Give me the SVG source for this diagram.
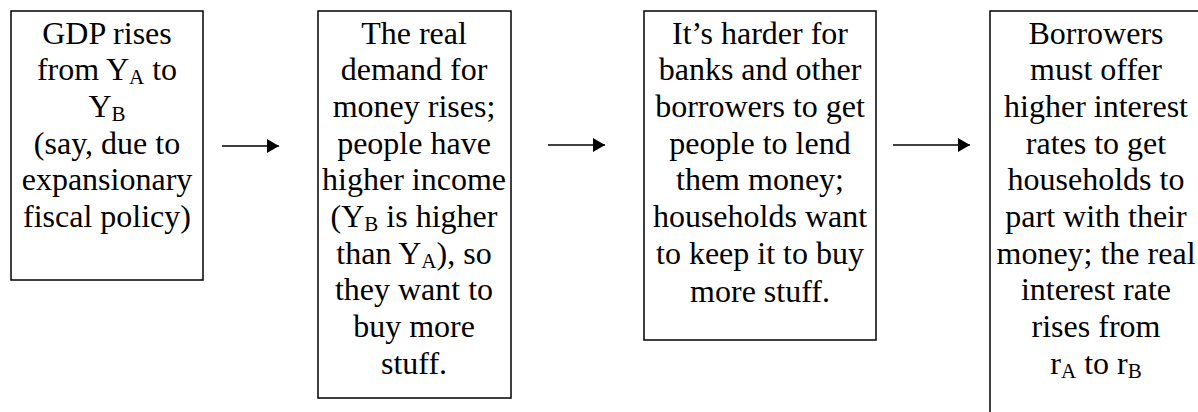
<svg xmlns="http://www.w3.org/2000/svg" width="1198" height="412" viewBox="0 0 1198 412">
<style>
.box{fill:#fff;stroke:#000;stroke-width:1.5}
.t{font-family:"Liberation Serif","Times New Roman","DejaVu Serif",serif;font-size:32px;fill:#000;text-anchor:middle}
.s{font-size:21px}
.c{stroke:#000;stroke-width:1.5;fill:none}
</style>
<defs>
<marker id="ah" markerUnits="userSpaceOnUse" markerWidth="12" markerHeight="14" refX="12" refY="7" orient="auto">
<path d="M0,0 L12,7 L0,14 Z" fill="#000"/>
</marker>
</defs>
<rect width="1198" height="412" fill="#fff"/>
<g id="node1" font-family="Liberation Serif, serif">
<rect class="box" x="11" y="11" width="192" height="269"/>
<text class="t" x="107" y="43.5">GDP rises</text>
<text class="t" x="107" y="80.2">from Y<tspan class="s" dy="4">A</tspan><tspan dy="-4"> to</tspan></text>
<text class="t" x="107" y="116.9">Y<tspan class="s" dy="4">B</tspan></text>
<text class="t" x="107" y="153.6">(say, due to</text>
<text class="t" x="107" y="190.3">expansionary</text>
<text class="t" x="107" y="227">fiscal policy)</text>
</g>
<g id="node2" font-family="Liberation Serif, serif">
<rect class="box" x="318" y="11" width="193" height="387"/>
<text class="t" x="414" y="43.5">The real</text>
<text class="t" x="414" y="80.2">demand for</text>
<text class="t" x="414" y="116.9">money rises;</text>
<text class="t" x="414" y="153.6">people have</text>
<text class="t" x="414" y="190.3">higher income</text>
<text class="t" x="414" y="227">(Y<tspan class="s" dy="4">B</tspan><tspan dy="-4"> is higher</tspan></text>
<text class="t" x="414" y="263.7">than Y<tspan class="s" dy="4">A</tspan><tspan dy="-4">), so</tspan></text>
<text class="t" x="414" y="300.4">they want to</text>
<text class="t" x="414" y="337.1">buy more</text>
<text class="t" x="414" y="373.8">stuff.</text>
</g>
<g id="node3" font-family="Liberation Serif, serif">
<rect class="box" x="644" y="11" width="232" height="329"/>
<text class="t" x="760" y="43.5">It’s harder for</text>
<text class="t" x="760" y="80.2">banks and other</text>
<text class="t" x="760" y="116.9">borrowers to get</text>
<text class="t" x="760" y="153.6">people to lend</text>
<text class="t" x="760" y="190.3">them money;</text>
<text class="t" x="760" y="227">households want</text>
<text class="t" x="760" y="263.7">to keep it to buy</text>
<text class="t" x="760" y="301.5">more stuff.</text>
</g>
<g id="node4" font-family="Liberation Serif, serif">
<rect class="box" x="990" y="11" width="214" height="420"/>
<text class="t" x="1096" y="43.5">Borrowers</text>
<text class="t" x="1096" y="80.2">must offer</text>
<text class="t" x="1096" y="116.9">higher interest</text>
<text class="t" x="1096" y="153.6">rates to get</text>
<text class="t" x="1096" y="190.3">households to</text>
<text class="t" x="1096" y="227">part with their</text>
<text class="t" x="1096" y="263.7">money; the real</text>
<text class="t" x="1096" y="300.4">interest rate</text>
<text class="t" x="1096" y="337.1">rises from</text>
<text class="t" x="1096" y="373.8">r<tspan class="s" dy="4">A</tspan><tspan dy="-4"> to r</tspan><tspan class="s" dy="4">B</tspan></text>
</g>
<g id="connectors">
<line class="c" x1="222" y1="146" x2="279" y2="146" marker-end="url(#ah)"/>
<line class="c" x1="548" y1="145" x2="605" y2="145" marker-end="url(#ah)"/>
<line class="c" x1="893" y1="145" x2="970" y2="145" marker-end="url(#ah)"/>
</g>
</svg>
